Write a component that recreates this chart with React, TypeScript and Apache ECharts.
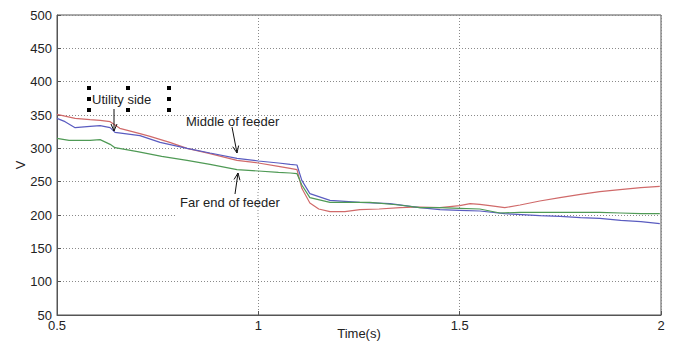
import React, { useEffect, useRef } from "react";
import * as echarts from "echarts";

// Voltage profiles along the feeder (time in s, voltage in V)
const utilityTime = [0.5, 0.545, 0.582, 0.607, 0.632, 0.644, 0.656, 0.706, 0.731, 0.78, 0.823, 0.88, 0.947, 1.0, 1.05, 1.079, 1.096, 1.108, 1.128, 1.15, 1.178, 1.215, 1.252, 1.3, 1.352, 1.401, 1.451, 1.5, 1.526, 1.55, 1.575, 1.612, 1.65, 1.699, 1.749, 1.8, 1.848, 1.898, 1.95, 1.997];
const utilityV = [351, 345, 343, 342, 340, 335, 330, 322, 318, 309, 300, 292, 282, 278, 273, 270, 268, 240, 218, 209, 205, 205, 208, 209, 211, 212, 211, 214, 217, 216, 214, 211, 215, 221, 226, 231, 235, 238, 241, 243];

const middleTime = [0.5, 0.52, 0.545, 0.582, 0.607, 0.632, 0.644, 0.706, 0.756, 0.823, 0.88, 0.947, 1.0, 1.05, 1.079, 1.096, 1.108, 1.128, 1.178, 1.252, 1.327, 1.401, 1.451, 1.5, 1.55, 1.612, 1.699, 1.75, 1.8, 1.848, 1.9, 1.95, 1.997];
const middleV = [345, 340, 331, 333, 334, 331, 324, 319, 309, 300, 293, 285, 281, 278, 276, 275, 252, 232, 222, 219, 217, 211, 208, 207, 206, 202, 199, 198, 196, 195, 192, 190, 187];

const farTime = [0.5, 0.53, 0.582, 0.607, 0.632, 0.644, 0.7, 0.76, 0.823, 0.88, 0.947, 1.0, 1.05, 1.079, 1.096, 1.108, 1.128, 1.178, 1.277, 1.35, 1.401, 1.451, 1.5, 1.55, 1.6, 1.65, 1.699, 1.75, 1.8, 1.848, 1.9, 1.95, 1.997];
const farV = [315, 312, 312, 313, 306, 301, 295, 288, 282, 276, 268, 266, 264, 263, 262, 245, 226, 219, 219, 215, 211, 211, 210, 209, 203, 204, 204, 204, 204, 204, 203, 202, 202];

const xTicks = [0.5, 1, 1.5, 2];
const yTicks = [50, 100, 150, 200, 250, 300, 350, 400, 450, 500];

const FONT = "Liberation Sans, Arial, sans-serif";
const GRID_COLOR = "#8a8a8a";

const pair = (t: number[], v: number[]) => t.map((x, i) => [x, v[i]]);

// small black selection handles around the "Utility side" label
const handlePos = [
  [89, 88], [128, 88], [169, 88],
  [89, 99], [169, 99],
  [89, 110], [128, 110], [169, 110],
];

export default function App() {
  const ref = useRef<HTMLDivElement>(null);

  useEffect(() => {
    if (!ref.current) return;
    document.body.style.margin = "0";
    const chart = echarts.init(ref.current, undefined, { renderer: "svg" });

    const handles = handlePos.map(([x, y]) => ({
      type: "rect",
      shape: { x: x - 2, y: y - 2, width: 4, height: 4 },
      style: { fill: "#000" },
      z: 10,
    }));

    const arrow = (x1: number, y1: number, x2: number, y2: number) => {
      const len = Math.hypot(x2 - x1, y2 - y1);
      const dx = (x2 - x1) / len;
      const dy = (y2 - y1) / len;
      const bx = x2 - dx * 7;
      const by = y2 - dy * 7;
      const px = -dy * 3;
      const py = dx * 3;
      return [
        { type: "line", shape: { x1, y1, x2, y2 }, style: { stroke: "#111", lineWidth: 1 }, z: 10 },
        {
          type: "polyline",
          shape: { points: [[bx + px, by + py], [x2, y2], [bx - px, by - py]] },
          style: { stroke: "#111", lineWidth: 1, fill: null },
          z: 10,
        },
      ];
    };

    const labelStyle = { fill: "#222", fontSize: 13, fontFamily: FONT };

    chart.setOption({
      animation: false,
      backgroundColor: "#fff",
      grid: {
        left: 57,
        right: 12,
        top: 15,
        bottom: 26,
        outerBoundsMode: "none",
        show: true,
        borderColor: "#555",
        borderWidth: 1,
      },
      xAxis: {
        type: "value",
        min: 0.5,
        max: 2,
        interval: 0.5,
        name: "Time(s)",
        nameLocation: "middle",
        nameGap: 12,
        nameMoveOverlap: false,
        nameTextStyle: { color: "#222", fontSize: 13, fontFamily: FONT },
        axisLine: { show: true, lineStyle: { color: "#555" } },
        axisTick: { show: true, inside: true, length: 4, lineStyle: { color: "#555" } },
        axisLabel: {
          color: "#222",
          fontSize: 13,
          fontFamily: FONT,
          margin: 4,
          formatter: (v: number) => (xTicks.includes(v) ? String(v) : ""),
        },
        splitLine: { show: true, lineStyle: { color: GRID_COLOR, type: [1, 2], width: 1 } },
      },
      yAxis: {
        type: "value",
        min: 50,
        max: 500,
        interval: 50,
        name: "V",
        nameLocation: "middle",
        nameGap: 30,
        nameMoveOverlap: false,
        nameTextStyle: { color: "#222", fontSize: 13, fontFamily: FONT },
        axisLine: { show: true, lineStyle: { color: "#555" } },
        axisTick: { show: true, inside: true, length: 4, lineStyle: { color: "#555" } },
        axisLabel: {
          color: "#222",
          fontSize: 13,
          fontFamily: FONT,
          margin: 5,
          formatter: (v: number) => (yTicks.includes(v) ? String(v) : ""),
        },
        splitLine: { show: true, lineStyle: { color: GRID_COLOR, type: [1, 2], width: 1 } },
      },
      series: [
        {
          name: "Utility side",
          type: "line",
          data: pair(utilityTime, utilityV),
          showSymbol: false,
          lineStyle: { color: "#d06a6a", width: 1.2 },
          itemStyle: { color: "#d06a6a" },
        },
        {
          name: "Middle of feeder",
          type: "line",
          data: pair(middleTime, middleV),
          showSymbol: false,
          lineStyle: { color: "#5a5cc0", width: 1.2 },
          itemStyle: { color: "#5a5cc0" },
        },
        {
          name: "Far end of feeder",
          type: "line",
          data: pair(farTime, farV),
          showSymbol: false,
          lineStyle: { color: "#4f9a55", width: 1.2 },
          itemStyle: { color: "#4f9a55" },
        },
      ],
      graphic: [
        // white label box behind "Far end of feeder"
        { type: "rect", shape: { x: 177, y: 192, width: 121, height: 26 }, style: { fill: "#fff" }, z: 1 },
        { type: "line", shape: { x1: 258, y1: 192, x2: 258, y2: 218 }, style: { stroke: GRID_COLOR, lineWidth: 1, lineDash: [1, 2] }, z: 1 },
        { type: "text", x: 180, y: 202, style: { ...labelStyle, text: "Far end of feeder", verticalAlign: "middle" }, z: 10 },
        { type: "text", x: 186, y: 121, style: { ...labelStyle, text: "Middle of feeder", verticalAlign: "middle" }, z: 10 },
        { type: "text", x: 92, y: 99, style: { ...labelStyle, text: "Utility side", verticalAlign: "middle" }, z: 10 },
        ...handles,
        ...arrow(114, 109, 114, 131),
        ...arrow(232, 127, 237, 153),
        ...arrow(235, 194, 238, 173),
      ],
    });

    return () => chart.dispose();
  }, []);

  return <div ref={ref} style={{ width: 673, height: 341 }} />;
}
